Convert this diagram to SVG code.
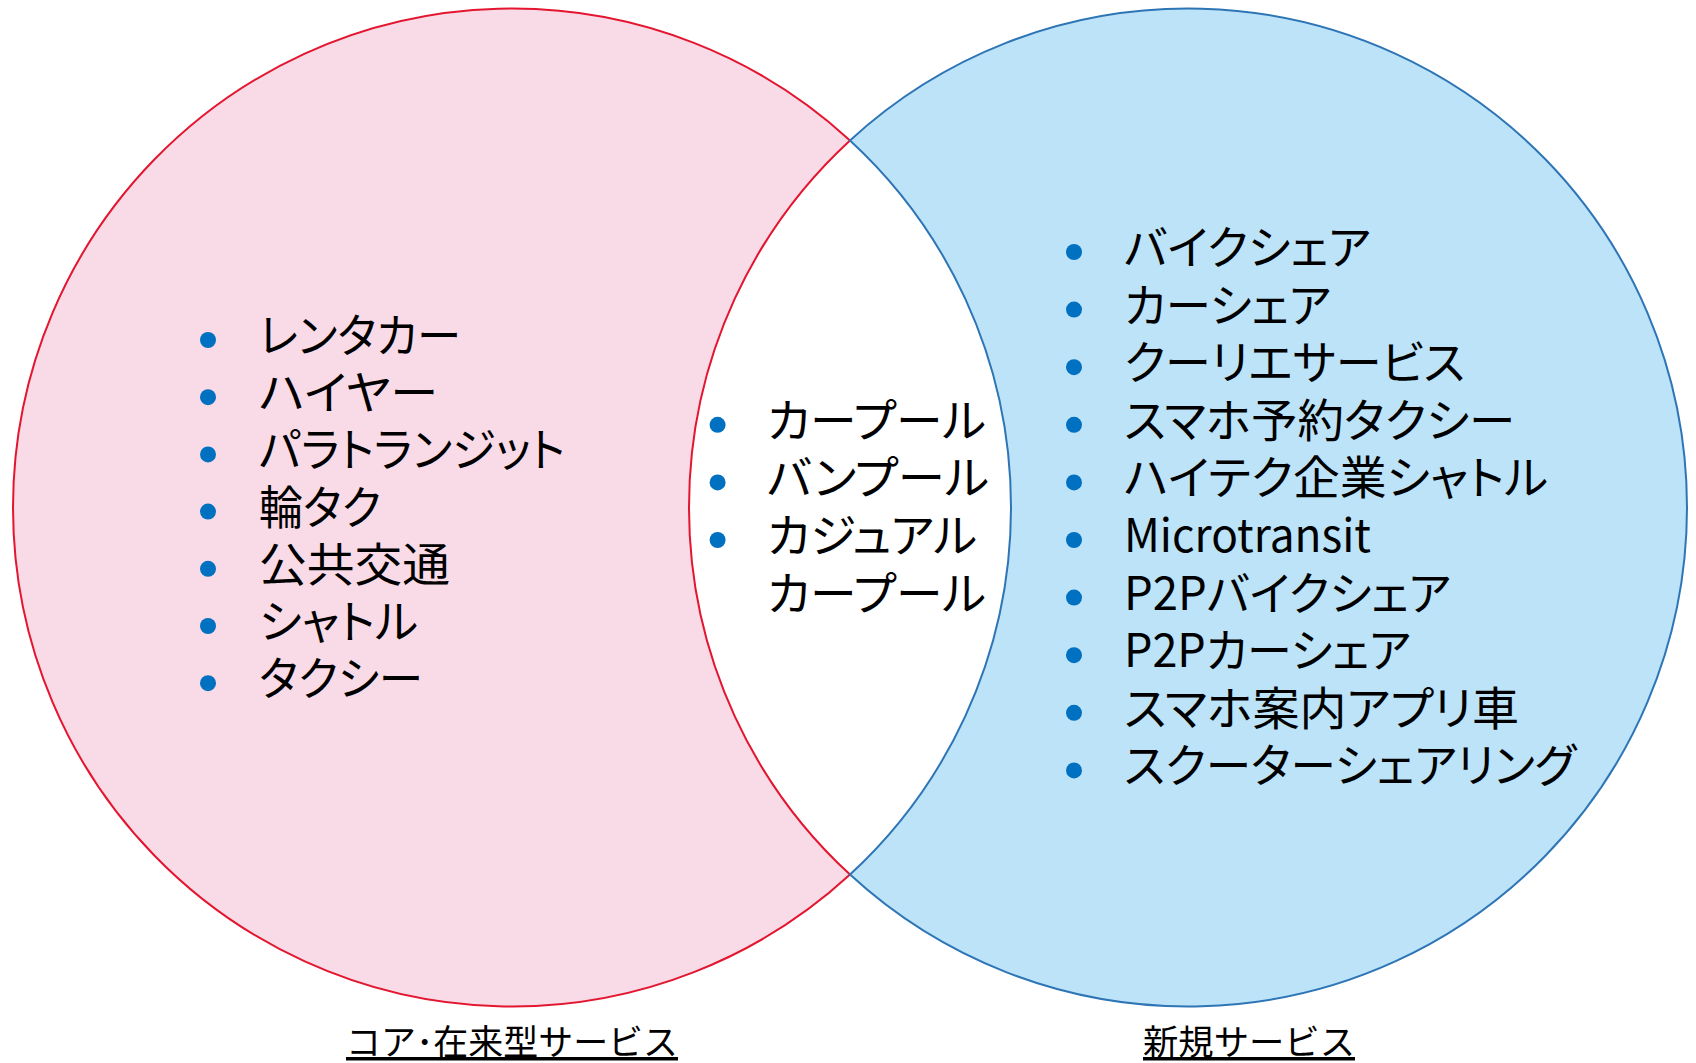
<svg xmlns="http://www.w3.org/2000/svg" width="1696" height="1063" viewBox="0 0 1696 1063">
<style>
.t{font-family:"Noto Sans CJK JP","Noto Sans",sans-serif;font-size:46px;fill:#000;font-feature-settings:"palt" 1;}
.lbl{font-family:"Noto Sans CJK JP","Noto Sans",sans-serif;font-size:35px;fill:#000;text-decoration:underline;}
.b{fill:#0070C0;}
</style>
<rect width="1696" height="1063" fill="#fff"/>
<g id="set-core">
<path d="M850,140.4 A499,499 0 1 0 850,874.6 A499,499 0 0 1 850,140.4 Z" fill="#F9DBE7" stroke="#E3152F" stroke-width="2"/>
</g>
<g id="set-new">
<path d="M850,140.4 A499,499 0 1 1 850,874.6 A499,499 0 0 0 850,140.4 Z" fill="#BCE3F8" stroke="#2E75B6" stroke-width="2"/>
</g>
<g id="core-items">
<circle class="b" cx="208" cy="340" r="8"/><text class="t" x="259" y="352" textLength="202" lengthAdjust="spacingAndGlyphs">レンタカー</text>
<circle class="b" cx="208" cy="397.2" r="8"/><text class="t" x="259" y="409.2" textLength="179" lengthAdjust="spacingAndGlyphs">ハイヤー</text>
<circle class="b" cx="208" cy="454.4" r="8"/><text class="t" x="259" y="466.4" textLength="306" lengthAdjust="spacingAndGlyphs">パラトランジット</text>
<circle class="b" cx="208" cy="511.6" r="8"/><text class="t" x="259" y="523.6" textLength="122" lengthAdjust="spacingAndGlyphs">輪タク</text>
<circle class="b" cx="208" cy="568.8" r="8"/><text class="t" x="259" y="580.8" textLength="191" lengthAdjust="spacingAndGlyphs">公共交通</text>
<circle class="b" cx="208" cy="626" r="8"/><text class="t" x="259" y="638" textLength="159" lengthAdjust="spacingAndGlyphs">シャトル</text>
<circle class="b" cx="208" cy="683.2" r="8"/><text class="t" x="259" y="695.2" textLength="164" lengthAdjust="spacingAndGlyphs">タクシー</text>
</g>
<g id="overlap-items">
<circle class="b" cx="717.6" cy="424.8" r="8"/><text class="t" x="767" y="436.8" textLength="219" lengthAdjust="spacingAndGlyphs">カープール</text>
<circle class="b" cx="717.6" cy="482.4" r="8"/><text class="t" x="767" y="494.4" textLength="222" lengthAdjust="spacingAndGlyphs">バンプール</text>
<circle class="b" cx="717.6" cy="540" r="8"/><text class="t" x="767" y="552" textLength="210" lengthAdjust="spacingAndGlyphs">カジュアル</text>
<text class="t" x="767" y="609.6" textLength="219" lengthAdjust="spacingAndGlyphs">カープール</text>
</g>
<g id="new-items">
<circle class="b" cx="1074" cy="252" r="8"/><text class="t" x="1124" y="264" textLength="247" lengthAdjust="spacingAndGlyphs">バイクシェア</text>
<circle class="b" cx="1074" cy="309.6" r="8"/><text class="t" x="1124" y="321.6" textLength="207" lengthAdjust="spacingAndGlyphs">カーシェア</text>
<circle class="b" cx="1074" cy="367.2" r="8"/><text class="t" x="1124" y="379.2" textLength="341" lengthAdjust="spacingAndGlyphs">クーリエサービス</text>
<circle class="b" cx="1074" cy="424.8" r="8"/><text class="t" x="1124" y="436.8" textLength="391" lengthAdjust="spacingAndGlyphs">スマホ予約タクシー</text>
<circle class="b" cx="1074" cy="482.4" r="8"/><text class="t" x="1124" y="494.4" textLength="424" lengthAdjust="spacingAndGlyphs">ハイテク企業シャトル</text>
<circle class="b" cx="1074" cy="540" r="8"/><text class="t" x="1124" y="552" textLength="247" lengthAdjust="spacingAndGlyphs">Microtransit</text>
<circle class="b" cx="1074" cy="597.6" r="8"/><text class="t" x="1124" y="609.6" textLength="327" lengthAdjust="spacingAndGlyphs">P2Pバイクシェア</text>
<circle class="b" cx="1074" cy="655.2" r="8"/><text class="t" x="1124" y="667.2" textLength="287" lengthAdjust="spacingAndGlyphs">P2Pカーシェア</text>
<circle class="b" cx="1074" cy="712.8" r="8"/><text class="t" x="1124" y="724.8" textLength="395" lengthAdjust="spacingAndGlyphs">スマホ案内アプリ車</text>
<circle class="b" cx="1074" cy="770.4" r="8"/><text class="t" x="1124" y="782.4" textLength="452" lengthAdjust="spacingAndGlyphs">スクーターシェアリング</text>
</g>
<g id="label-core">
<text class="lbl" x="346" y="1055" textLength="332" lengthAdjust="spacingAndGlyphs">コア･在来型サービス</text>
</g>
<g id="label-new">
<text class="lbl" x="1143" y="1055" textLength="212" lengthAdjust="spacingAndGlyphs">新規サービス</text>
</g>
</svg>
